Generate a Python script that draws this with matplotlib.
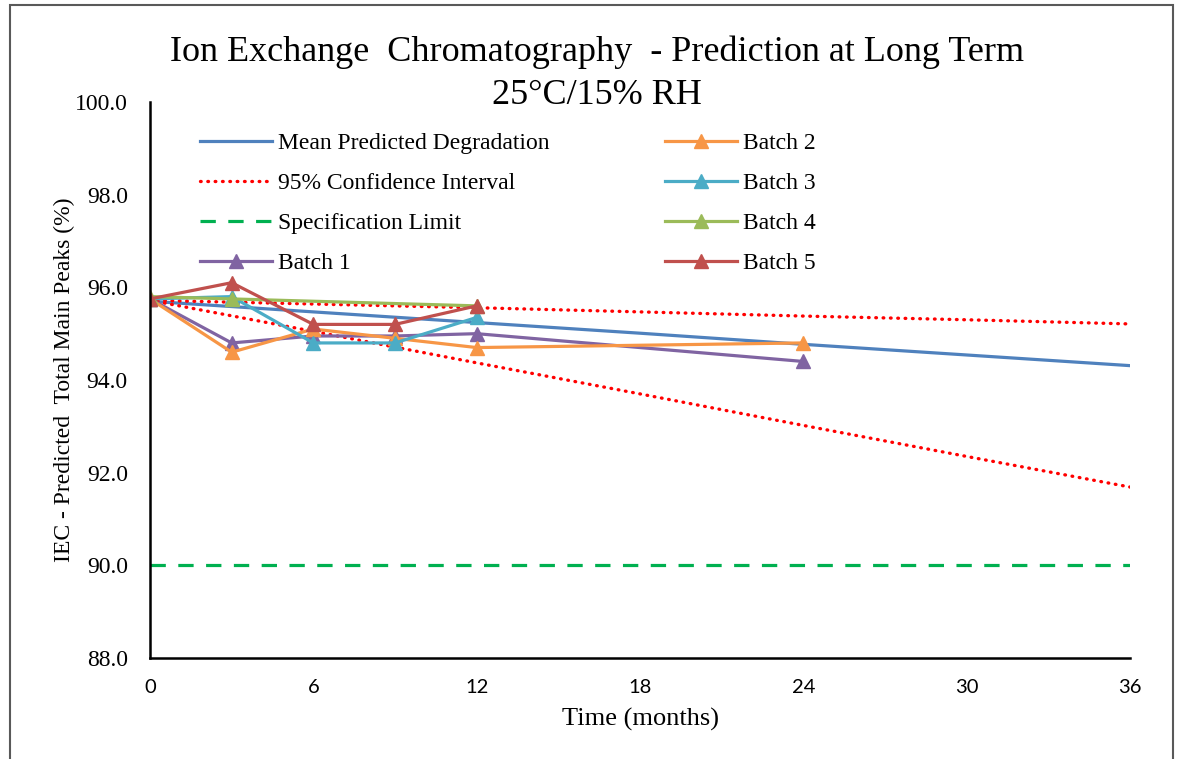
import matplotlib
matplotlib.use("Agg")
import matplotlib.pyplot as plt
from matplotlib.patches import Rectangle

# stability data, % total main peaks by IEC
months_fit = [0, 6, 12, 18, 24, 30, 36]
mean_pred = [95.70, 95.47, 95.24, 95.01, 94.77, 94.54, 94.31]
ci_upper = [95.72, 95.64, 95.56, 95.47, 95.38, 95.30, 95.21]
ci_lower = [95.72, 95.05, 94.37, 93.70, 93.02, 92.35, 91.69]
spec_limit = 90.0

batch1_t = [0, 3, 6, 9, 12, 24]
batch1 = [95.75, 94.8, 94.95, 94.95, 95.0, 94.4]
batch2_t = [0, 3, 6, 9, 12, 24]
batch2 = [95.75, 94.6, 95.1, 94.9, 94.7, 94.8]
batch3_t = [0, 3, 6, 9, 12]
batch3 = [95.75, 95.8, 94.8, 94.8, 95.35]
batch4_t = [0, 3, 12]
batch4 = [95.8, 95.75, 95.6]
batch5_t = [0, 3, 6, 9, 12]
batch5 = [95.75, 96.1, 95.2, 95.2, 95.6]

serif = "Liberation Serif"

fig = plt.figure(figsize=(11.81, 7.59), dpi=100)
ax = fig.add_axes([150 / 1181, 1 - 658 / 759, 980 / 1181, 556 / 759])

ax.plot(months_fit, mean_pred, color="#4F81BD", lw=2.3, label="Mean Predicted Degradation")
ax.plot(months_fit, ci_upper, color="#FF0000", lw=2.4, linestyle=(0, (0.2, 2.0)),
        dash_capstyle="round", label="95% Confidence Interval")
ax.plot(months_fit, ci_lower, color="#FF0000", lw=2.4, linestyle=(0, (0.2, 2.0)),
        dash_capstyle="round")
ax.plot([0, 36], [spec_limit, spec_limit], color="#00B050", lw=2.3,
        linestyle=(0, (4.8, 3.9)), label="Specification Limit")

batches = [
    (batch1_t, batch1, "#8064A2", "Batch 1"),
    (batch2_t, batch2, "#F79646", "Batch 2"),
    (batch3_t, batch3, "#4BACC6", "Batch 3"),
    (batch4_t, batch4, "#9BBB59", "Batch 4"),
    (batch5_t, batch5, "#C0504D", "Batch 5"),
]
for t, v, c, name in batches:
    ax.plot(t, v, color=c, lw=2.3, marker="^", markersize=10, label=name)

ax.set_xlim(0, 36)
ax.set_ylim(88, 100)
ax.set_xticks(range(0, 37, 6))
ax.set_yticks(range(88, 101, 2))
ax.set_yticklabels([f"{v:.1f}" for v in range(88, 101, 2)], fontfamily=serif, fontsize=17)
ax.set_xticklabels([str(v) for v in range(0, 37, 6)], fontfamily="Lato", fontsize=14.5)
ax.tick_params(axis="both", length=0)
ax.tick_params(axis="x", pad=15)
ax.tick_params(axis="y", pad=16)
for s in ["top", "right"]:
    ax.spines[s].set_visible(False)
for s in ["left", "bottom"]:
    ax.spines[s].set_linewidth(1.8)
    ax.spines[s].set_color("black")

ax.set_xlabel("Time (months)", fontfamily=serif, fontsize=19, labelpad=9)
ax.set_ylabel("IEC - Predicted  Total Main Peaks (%)", fontfamily=serif, fontsize=17, labelpad=0)

fig.text(597 / 1181, 1 - 52 / 759, "Ion Exchange  Chromatography  - Prediction at Long Term",
         ha="center", va="center", fontfamily=serif, fontsize=26)
fig.text(597 / 1181, 1 - 95 / 759, "25°C/15% RH",
         ha="center", va="center", fontfamily=serif, fontsize=26)

ax.legend(loc="upper left", bbox_to_anchor=(0.051, 0.945), ncol=2, frameon=False,
          prop={"family": serif, "size": 17}, borderpad=0, borderaxespad=0,
          handlelength=3.05, handletextpad=0.25, columnspacing=4.9, labelspacing=0.78)

fig.patches.append(Rectangle((10 / 1181, -0.01), 1163 / 1181, 1.01 - 5 / 759,
                             transform=fig.transFigure, fill=False,
                             edgecolor="#595959", lw=1.5))

fig.savefig("out.png", dpi=100)
